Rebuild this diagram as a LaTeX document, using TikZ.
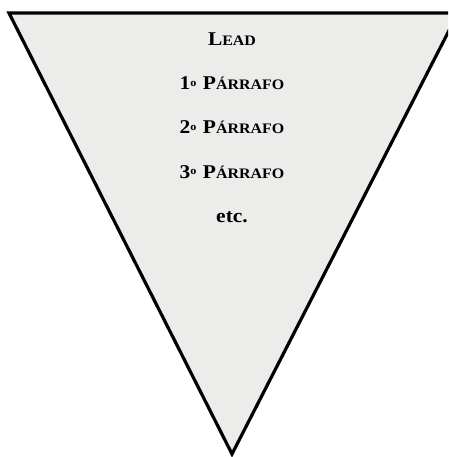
\documentclass[tikz,border=0pt]{standalone}
\usepackage{fontspec}
\setmainfont{Liberation Serif}[FakeStretch=1.1]
\definecolor{fanfill}{RGB}{236,236,235}
\newcommand{\fakesc}[2]{{\fontsize{19.5}{19.5}\selectfont #1}{\fontsize{14.5}{14.5}\selectfont #2}}
\newcommand{\ordnum}[1]{{\fontsize{19.5}{19.5}\selectfont #1}\raisebox{3.2pt}{\fontsize{11}{11}\selectfont o}\hspace{6.5pt}}
\tikzset{every picture/.style={line width=0.75pt}}

\begin{document}
\begin{tikzpicture}[x=1pt,y=1pt,yscale=-1,xscale=1]
\useasboundingbox (0,0) rectangle (448,457);
\clip (0,0) rectangle (448,457);

%Shape: Triangle (inverted pyramid)
\draw [line width=3.2,fill=fanfill,line join=miter] (9,13) -- (458,13) -- (232,454) -- cycle;

% Text Nodes
\tikzset{pyrtext/.style={anchor=base,inner sep=0.75pt,font=\bfseries}}
\node (lead) [pyrtext] at (232,46) {\fakesc{L}{EAD}};
\node (par1) [pyrtext] at (232,90) {\ordnum{1}\fakesc{P}{ÁRRAFO}};
\node (par2) [pyrtext] at (232,134) {\ordnum{2}\fakesc{P}{ÁRRAFO}};
\node (par3) [pyrtext] at (232,178) {\ordnum{3}\fakesc{P}{ÁRRAFO}};
\node (etc) [pyrtext] at (232,222) {\fontsize{19.5}{19.5}\selectfont etc.};

\end{tikzpicture}
\end{document}
